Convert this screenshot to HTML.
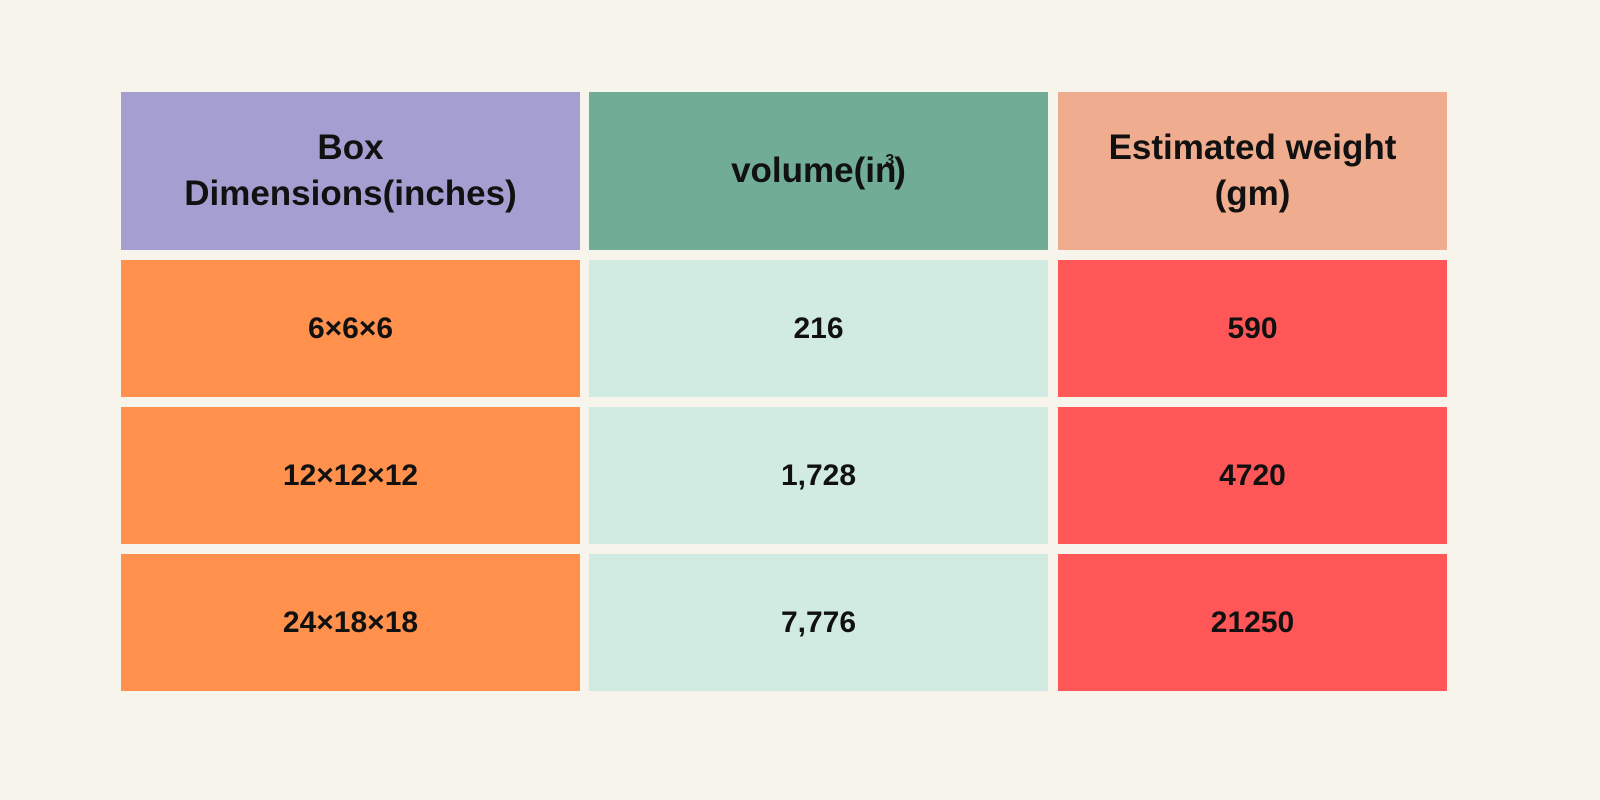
<!DOCTYPE html>
<html><head><meta charset="utf-8"><style>
html,body{margin:0;padding:0;width:1600px;height:800px;background:#f7f4ec;overflow:hidden}
.c{position:absolute;display:flex;align-items:center;justify-content:center;text-align:center;font-family:"Liberation Sans",sans-serif;font-weight:bold;color:#111}
.h{font-size:35px;line-height:46px}
.d{font-size:30px}
sup{font-size:16px;vertical-align:super;margin-left:-11px;position:relative;top:-10px}
</style></head><body>
<div>
<div class="c h" style="left:121px;top:92px;width:459px;height:158px;background:#a59fd1">Box<br>Dimensions(inches)</div>
<div class="c h" style="left:589px;top:92px;width:459px;height:158px;background:#70ac96">volume(in<sup>3</sup>)</div>
<div class="c h" style="left:1058px;top:92px;width:389px;height:158px;background:#efac8e">Estimated weight<br>(gm)</div>

<div class="c d" style="left:121px;top:260px;width:459px;height:137px;background:#ff914d">6×6×6</div>
<div class="c d" style="left:589px;top:260px;width:459px;height:137px;background:#d1ebe2">216</div>
<div class="c d" style="left:1058px;top:260px;width:389px;height:137px;background:#ff5757">590</div>

<div class="c d" style="left:121px;top:407px;width:459px;height:137px;background:#ff914d">12×12×12</div>
<div class="c d" style="left:589px;top:407px;width:459px;height:137px;background:#d1ebe2">1,728</div>
<div class="c d" style="left:1058px;top:407px;width:389px;height:137px;background:#ff5757">4720</div>

<div class="c d" style="left:121px;top:554px;width:459px;height:137px;background:#ff914d">24×18×18</div>
<div class="c d" style="left:589px;top:554px;width:459px;height:137px;background:#d1ebe2">7,776</div>
<div class="c d" style="left:1058px;top:554px;width:389px;height:137px;background:#ff5757">21250</div>
</div>
</body></html>
